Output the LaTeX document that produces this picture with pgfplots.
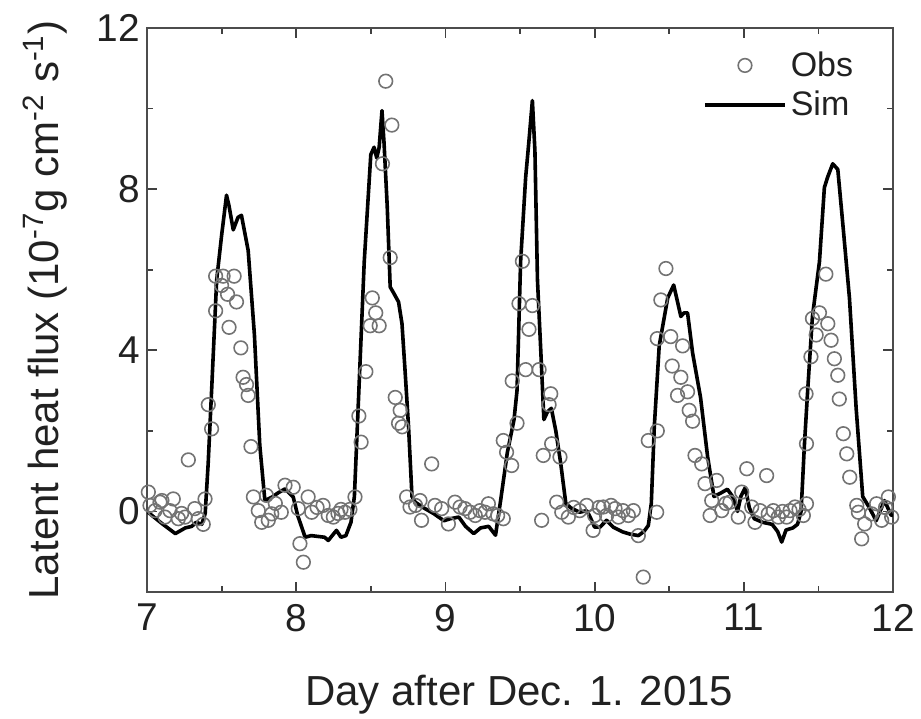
\documentclass[border=0pt]{standalone}
\usepackage{pgfplots}
\pgfplotsset{compat=1.18}
\usepackage{fontspec}
\setmainfont{Liberation Sans}
\definecolor{txt}{gray}{0.13}
\definecolor{obsc}{gray}{0.45}
\begin{document}
\begin{tikzpicture}
\begin{axis}[
  scale only axis, width=373pt, height=282pt,
  xmin=7, xmax=12, ymin=-2, ymax=12,
  xtick={7,8,9,10,11,12}, minor x tick num=1,
  ytick={0,4,8,12}, minor ytick={-2,2,6,10},
  tick align=inside, major tick length=5pt, minor tick length=2.8pt,
  every tick/.style={black!75, line width=0.9pt},
  axis line style={black!70, line width=1.1pt},
  /pgf/number format/assume math mode=true,
  tick label style={font=\fontsize{19.4}{23}\selectfont, text=txt},
  xticklabel style={yshift=-2.5pt},
  label style={font=\fontsize{21}{25}\selectfont, text=txt},
  xlabel={Day after Dec. 1. 2015},
  ylabel={Latent heat flux (10\textsuperscript{-7}g cm\textsuperscript{-2} s\textsuperscript{-1})},
  xlabel style={at={(axis description cs:0.499,-0.2004)}, anchor=base},
  ylabel style={at={(axis description cs:-0.137,0.5)}, anchor=center, rotate=0},
  legend image code/.code={\draw[mark repeat=2,mark phase=2,#1] plot coordinates {(0pt,0pt) (20pt,0pt) (40pt,0pt)};},
  legend style={draw=none, fill=none, at={(axis description cs:0.745,0.8985)}, anchor=west,
    font=\fontsize{17}{19}\selectfont, text=txt, row sep=2pt, inner sep=0pt,
    nodes={inner sep=2pt}},
  legend cell align=left,
]
\addplot[only marks, mark=o, mark size=3.4pt, mark options={draw=obsc, line width=0.8pt}] coordinates {
(7.009,0.48) (7.02,0.15) (7.054,0.02) (7.087,0.23) (7.10,0.27) (7.12,-0.14) (7.154,0.02) (7.176,0.31)
(7.21,-0.18) (7.232,-0.05) (7.255,-0.14) (7.277,1.28) (7.32,0.07) (7.344,-0.18) (7.377,-0.32) (7.389,0.31)
(7.411,2.65) (7.433,2.05) (7.46,4.98) (7.46,5.84) (7.50,5.61) (7.51,5.84) (7.54,5.39) (7.55,4.57)
(7.584,5.84) (7.60,5.20) (7.629,4.06) (7.644,3.33) (7.667,3.15) (7.678,2.88) (7.697,1.61)
(7.713,0.36) (7.746,0.02) (7.769,-0.27) (7.80,0.40) (7.813,-0.22) (7.836,-0.06) (7.86,0.20) (7.90,-0.02)
(7.925,0.65) (7.98,0.60) (8.014,0.07) (8.025,-0.80) (8.048,-1.26) (8.08,0.36) (8.104,-0.02) (8.14,0.10)
(8.18,0.15) (8.215,-0.10) (8.249,-0.14) (8.28,-0.05) (8.30,0.05) (8.327,-0.02) (8.36,0.05) (8.394,0.36)
(8.42,2.37) (8.435,1.72) (8.467,3.47) (8.496,4.61) (8.51,5.30) (8.533,4.93) (8.556,4.61) (8.578,8.63)
(8.60,10.68) (8.63,6.30) (8.641,9.59) (8.664,2.83) (8.686,2.19) (8.697,2.51) (8.71,2.10)
(8.74,0.36) (8.763,0.11) (8.80,0.15) (8.83,0.27) (8.84,-0.22) (8.908,1.18) (8.93,0.15) (8.975,0.07)
(9.02,-0.31) (9.064,0.23) (9.098,0.11) (9.131,0.07) (9.165,-0.02) (9.20,-0.10) (9.232,0.02) (9.265,-0.02)
(9.288,0.19) (9.32,-0.06) (9.35,-0.10) (9.388,-0.18)
(9.388,1.76) (9.41,1.47) (9.444,1.14) (9.448,3.24) (9.48,2.19) (9.493,5.16) (9.516,6.21) (9.538,3.52)
(9.56,4.52) (9.583,5.11) (9.628,3.52) (9.645,-0.22) (9.656,1.39) (9.695,2.65) (9.706,2.92) (9.712,1.68)
(9.768,1.35)
(9.746,0.23) (9.78,-0.02) (9.824,-0.14) (9.86,0.10) (9.90,0.02) (9.947,0.15) (9.99,-0.47) (10.0,-0.10)
(10.03,0.10) (10.058,0.11) (10.08,-0.10) (10.11,0.15) (10.137,0.07) (10.16,-0.14) (10.19,0.02)
(10.226,-0.10) (10.26,0.02) (10.293,-0.60) (10.326,-1.63) (10.36,1.76) (10.416,-0.02)
(10.42,2.00) (10.42,4.29) (10.444,5.25) (10.478,6.03) (10.51,4.34) (10.52,3.61) (10.556,2.88)
(10.578,3.33) (10.59,4.11) (10.623,2.97) (10.634,2.51) (10.657,2.24) (10.673,1.39) (10.718,1.18)
(10.74,0.69)
(10.774,-0.10) (10.785,0.27) (10.818,0.77) (10.852,0.02) (10.88,0.20) (10.907,0.23) (10.963,-0.14)
(10.986,0.48) (11.02,1.06) (11.053,0.11) (11.075,-0.27) (11.109,0.02) (11.153,0.89) (11.164,-0.06)
(11.198,0.02) (11.231,-0.14) (11.26,0.00) (11.287,-0.14) (11.31,0.02) (11.343,0.11) (11.37,0.05)
(11.399,-0.10) (11.42,0.19) (11.42,1.68)
(11.417,2.92) (11.45,3.84) (11.46,4.79) (11.485,4.38) (11.507,4.93) (11.55,5.89) (11.563,4.66)
(11.585,4.25) (11.607,3.79) (11.63,3.38) (11.64,2.79) (11.667,1.93) (11.69,1.43) (11.71,0.85)
(11.757,0.15) (11.768,-0.02) (11.79,-0.68) (11.81,-0.31) (11.857,-0.06) (11.89,0.19) (11.924,-0.22)
(11.95,0.10) (11.969,0.36) (11.991,-0.14)
};
\addlegendentry{Obs}
\addplot[black, line width=1.8pt, line join=round] coordinates {
(7.00,0.00) (7.05,-0.15) (7.10,-0.30) (7.19,-0.55) (7.256,-0.41) (7.30,-0.37) (7.33,-0.27) (7.367,-0.32)
(7.39,-0.05) (7.41,1.19) (7.433,3.0) (7.467,5.75) (7.50,6.85) (7.533,7.85) (7.55,7.58) (7.578,6.99)
(7.61,7.3) (7.633,7.35) (7.678,6.48) (7.72,4.38) (7.756,1.64) (7.79,0.27) (7.84,0.36) (7.878,0.46)
(7.925,0.56) (7.98,0.36) (8.01,-0.10) (8.06,-0.64) (8.10,-0.60) (8.19,-0.64) (8.215,-0.72) (8.25,-0.56)
(8.27,-0.47) (8.30,-0.64) (8.333,-0.60) (8.367,-0.27) (8.39,0.37) (8.42,3.0) (8.456,6.2) (8.50,8.86)
(8.522,9.04) (8.54,8.77) (8.556,9.04) (8.575,9.95) (8.589,9.13) (8.61,7.58) (8.63,5.57) (8.652,5.43)
(8.686,5.2) (8.709,4.66) (8.73,3.47) (8.753,2.1) (8.776,0.37) (8.798,0.23) (8.854,0.09) (8.92,-0.05)
(8.99,-0.23) (9.034,-0.18) (9.09,-0.14) (9.135,-0.37) (9.19,-0.55) (9.235,-0.41) (9.29,-0.37)
(9.336,-0.59) (9.37,0.27) (9.415,1.46) (9.46,2.28) (9.48,3.0) (9.504,6.2) (9.538,8.3) (9.56,9.2)
(9.583,10.2) (9.60,8.95) (9.617,5.75) (9.64,3.93) (9.66,2.28) (9.684,2.47) (9.71,2.56) (9.74,2.0)
(9.773,1.19) (9.807,0.20) (9.84,0.09) (9.90,-0.02) (9.947,0.02) (9.97,-0.14) (10.0,-0.39)
(10.036,-0.39) (10.08,-0.22) (10.125,-0.39) (10.19,-0.51) (10.235,-0.56) (10.293,-0.60) (10.33,-0.50)
(10.36,-0.35) (10.38,0.20) (10.40,2.1) (10.433,4.11) (10.455,4.57) (10.49,5.3) (10.53,5.62) (10.556,5.2)
(10.578,4.84) (10.60,4.93) (10.623,4.93) (10.657,3.93) (10.71,2.83) (10.757,1.37) (10.80,0.37)
(10.847,0.46) (10.89,0.55) (10.925,0.37) (10.958,0.0) (10.98,0.37) (11.01,0.59) (11.037,0.09)
(11.07,-0.18) (11.126,-0.27) (11.19,-0.32) (11.227,-0.5) (11.254,-0.76) (11.283,-0.46) (11.328,-0.41)
(11.36,-0.32) (11.384,0.0) (11.406,1.64) (11.428,3.0) (11.46,4.84) (11.507,6.2) (11.54,8.04)
(11.562,8.3) (11.596,8.63) (11.63,8.49) (11.664,7.12) (11.708,5.3) (11.753,2.56) (11.797,0.37)
(11.842,0.09) (11.887,-0.23) (11.943,0.27) (11.987,-0.09) (12.0,-0.1)
};
\addlegendentry{Sim}
\end{axis}
\pgfresetboundingbox
\path ([shift={(-73.5pt,-63pt)}]current axis.south west) rectangle ([shift={(14pt,14pt)}]current axis.north east);
\end{tikzpicture}
\end{document}
